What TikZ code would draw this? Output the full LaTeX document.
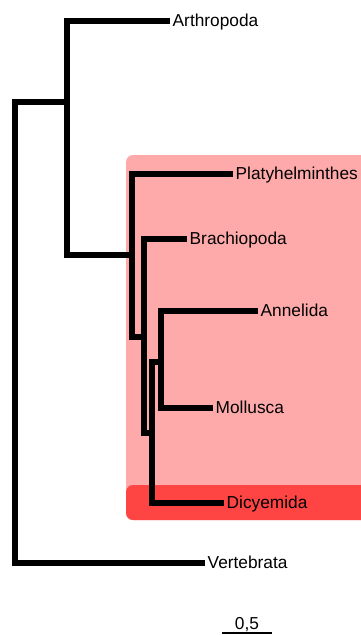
\documentclass[tikz,border=0pt]{standalone}
\usepackage{fontspec}
\setmainfont{Liberation Sans}
\usepackage{xcolor}
\definecolor{cladebg}{RGB}{255,170,170}
\definecolor{dicybg}{RGB}{255,68,68}

\begin{document}
\begin{tikzpicture}[
  x=1pt, y=-1pt,
  branch/.style={line width=5.5pt,line join=miter},
  taxon/.style={anchor=west,inner sep=2.5pt,text height=12pt,text depth=2pt,
    font=\fontsize{17.3}{19}\selectfont}
]
  \useasboundingbox (0,0) rectangle (361,635);
  \clip (0,0) rectangle (361,635);
  % highlighted clade
  \fill[cladebg,rounded corners=7pt] (126,155) rectangle (375,520);
  \fill[dicybg,rounded corners=7pt] (126,485) rectangle (375,520);
  % inner nodes
  \coordinate (root) at (15,333);
  \coordinate (n1) at (67,102);
  \coordinate (n2) at (132,255);
  \coordinate (n3) at (144,337);
  \coordinate (n4) at (152,433);
  \coordinate (n5) at (161,362);
  % leaves
  \node[taxon] (arth) at (170,21) {Arthropoda};
  \node[taxon] (platy) at (233,174) {Platyhelminthes};
  \node[taxon] (brach) at (187,239) {Brachiopoda};
  \node[taxon] (anne) at (258,311) {Annelida};
  \node[taxon] (moll) at (213,408) {Mollusca};
  \node[taxon] (dicy) at (224,503) {Dicyemida};
  \node[taxon] (vert) at (205,563) {Vertebrata};
  \draw[branch] (root) |- (n1);
  \draw[branch] (root) |- (vert.west);
  \draw[branch] (n1) |- (arth.west);
  \draw[branch] (n1) |- (n2);
  \draw[branch] (n2) |- (platy.west);
  \draw[branch] (n2) |- (n3);
  \draw[branch] (n3) |- (brach.west);
  \draw[branch] (n3) |- (n4);
  \draw[branch] (n4) |- (n5);
  \draw[branch] (n4) |- (dicy.west);
  \draw[branch] (n5) |- (anne.west);
  \draw[branch] (n5) |- (moll.west);
  % scale bar
  \coordinate (sbl) at (222,633);
  \coordinate (sbr) at (272,633);
  \node[taxon,anchor=south] (sblab) at (247,634) {0,5};
  \draw[line width=1.5pt] (sbl) -- (sbr);
\end{tikzpicture}
\end{document}
